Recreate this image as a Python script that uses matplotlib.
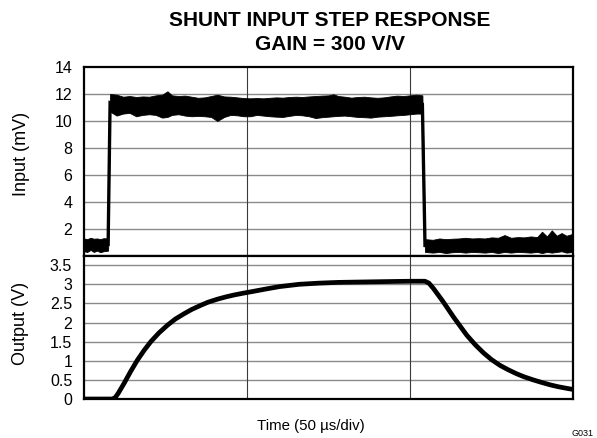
import matplotlib
matplotlib.use("Agg")
import matplotlib.pyplot as plt
import numpy as np

plt.rcParams['font.family'] = ['Liberation Sans', 'DejaVu Sans']

# ---- Input step (mV): noisy trace drawn as an upper/lower envelope ----
t_pre = [0, 1, 2, 3, 4, 5, 6, 7.4]
hi_pre = [1.30, 1.25, 1.35, 1.28, 1.30, 1.25, 1.32, 1.30]
lo_pre = [0.35, 0.30, 0.45, 0.30, 0.40, 0.28, 0.35, 0.40]

t_high = [8.0, 10, 12, 14, 16, 18, 20, 22, 24, 25.6, 27, 29, 31, 33, 35, 37, 39,
          40.9, 43, 45, 47, 49, 51, 53, 55, 57, 59, 61, 63, 65, 67, 69, 71, 73,
          75, 76.5, 78, 80, 82, 84, 86, 88, 90, 92, 94, 96, 98, 100, 102, 103.8]
hi_high = [12.0, 11.95, 11.8, 11.85, 11.78, 11.82, 11.8, 11.9, 11.95, 12.2,
           11.9, 11.85, 11.88, 11.8, 11.72, 11.75, 11.85, 11.95, 11.82, 11.8,
           11.75, 11.7, 11.68, 11.7, 11.68, 11.72, 11.75, 11.73, 11.78, 11.8,
           11.78, 11.82, 11.85, 11.88, 11.9, 11.98, 11.85, 11.8, 11.73, 11.78,
           11.8, 11.75, 11.72, 11.75, 11.82, 11.88, 11.85, 11.9, 11.95, 11.9]
lo_high = [10.7, 10.4, 10.55, 10.6, 10.35, 10.45, 10.5, 10.45, 10.25, 10.3,
           10.45, 10.5, 10.4, 10.35, 10.38, 10.35, 10.3, 10.0, 10.3, 10.45,
           10.42, 10.35, 10.35, 10.45, 10.4, 10.35, 10.32, 10.3, 10.38, 10.45,
           10.42, 10.35, 10.22, 10.28, 10.32, 10.35, 10.38, 10.4, 10.35, 10.3,
           10.28, 10.25, 10.32, 10.35, 10.38, 10.42, 10.45, 10.5, 10.55, 10.55]

t_post = [104.6, 107, 109, 111, 113, 115, 117, 119, 121, 123, 125, 127, 129,
          131, 133, 135, 137, 139, 140.5, 142, 143.5, 145, 146.5, 148, 150]
hi_post = [1.25, 1.2, 1.3, 1.25, 1.28, 1.3, 1.35, 1.3, 1.32, 1.3, 1.38, 1.35,
           1.55, 1.35, 1.4, 1.38, 1.45, 1.4, 1.8, 1.45, 1.9, 1.5, 1.7, 1.5, 1.65]
lo_post = [0.3, 0.25, 0.3, 0.22, 0.28, 0.3, 0.25, 0.3, 0.28, 0.25, 0.3, 0.22,
           0.3, 0.25, 0.3, 0.28, 0.25, 0.3, 0.22, 0.3, 0.25, 0.3, 0.35, 0.25, 0.3]

# ---- Output response (V) ----
t_out = [0, 8.7, 9.6, 10.5, 12.3, 14.3, 16.4, 18.5, 20.5, 23, 25.6, 28, 30.7,
         33, 35.8, 38, 40.9, 43.5, 46, 49, 51.6, 56, 60, 66, 72, 78, 85, 92,
         100, 104.6, 105.8, 107.2, 110.2, 113.3, 117.4, 120, 122.5, 125, 127.6,
         130, 132.7, 135, 137.8, 140.5, 143, 145.5, 148, 150]
v_out = [0, 0, 0.04, 0.15, 0.41, 0.72, 1.02, 1.28, 1.5, 1.73, 1.93, 2.09, 2.23,
         2.34, 2.45, 2.53, 2.61, 2.67, 2.72, 2.77, 2.81, 2.88, 2.94, 3.0, 3.03,
         3.05, 3.06, 3.07, 3.08, 3.08, 3.03, 2.89, 2.54, 2.15, 1.67, 1.42, 1.21,
         1.03, 0.88, 0.77, 0.66, 0.58, 0.50, 0.43, 0.37, 0.32, 0.28, 0.25]

in_ticks = [2, 4, 6, 8, 10, 12, 14]
out_ticks = [0, 0.5, 1, 1.5, 2, 2.5, 3, 3.5]
out_tick_labels = ['0', '0.5', '1', '1.5', '2', '2.5', '3', '3.5']
time_grid = [50, 100]

W, H = 597, 438
fig = plt.figure(figsize=(W / 100, H / 100), dpi=100)

def box(l, t, r, b):
    return [l / W, 1 - b / H, (r - l) / W, (b - t) / H]

ax_in = fig.add_axes(box(84, 67, 573, 256))
ax_out = fig.add_axes(box(84, 256, 573, 399))

t_in = np.array(t_pre + t_high + t_post)
hi_in = np.array(hi_pre + hi_high + hi_post)
lo_in = np.array(lo_pre + lo_high + lo_post)

hgrid = '#8a8a8a'
vgrid = '#3a3a3a'

# Input panel
for y in in_ticks[:-1]:
    ax_in.axhline(y, color=hgrid, lw=1.0, zorder=1)
for x in time_grid:
    ax_in.axvline(x, color=vgrid, lw=0.8, zorder=1)
ax_in.fill_between(t_in, lo_in, hi_in, color='black', lw=0.6, edgecolor='black', zorder=3)
ax_in.plot(t_in, (hi_in + lo_in) / 2, color='black', lw=2.4, zorder=3,
           solid_joinstyle='miter')
ax_in.set_xlim(0, 150)
ax_in.set_ylim(0, 14)
ax_in.set_yticks(in_ticks)
ax_in.set_yticklabels([str(v) for v in in_ticks])
ax_in.set_xticks([])

# Output panel
for y in out_ticks[1:]:
    ax_out.axhline(y, color=hgrid, lw=1.0, zorder=1)
for x in time_grid:
    ax_out.axvline(x, color=vgrid, lw=0.8, zorder=1)
ax_out.plot(t_out, v_out, color='black', lw=3.4, zorder=3,
            solid_capstyle='butt', solid_joinstyle='round')
ax_out.set_xlim(0, 150)
ax_out.set_ylim(0, 3.74)
ax_out.set_yticks(out_ticks)
ax_out.set_yticklabels(out_tick_labels)
ax_out.set_xticks([])

for ax in (ax_in, ax_out):
    for s in ax.spines.values():
        s.set_linewidth(1.6)
        s.set_color('black')
        s.set_zorder(5)
    ax.tick_params(axis='y', length=0, pad=8.5, labelsize=11.5)

fig.text(330 / W, 1 - 21 / H, 'SHUNT INPUT STEP RESPONSE', ha='center', va='center',
         fontsize=15, fontweight='bold')
fig.text(330 / W, 1 - 44 / H, 'GAIN = 300 V/V', ha='center', va='center',
         fontsize=15, fontweight='bold')
fig.text(21.5 / W, 1 - 154 / H, 'Input (mV)', rotation=90, ha='center', va='center',
         fontsize=13)
fig.text(20.5 / W, 1 - 323 / H, 'Output (V)', rotation=90, ha='center', va='center',
         fontsize=13)
fig.text(311 / W, 1 - 426 / H, 'Time (50 \u00b5s/div)', ha='center', va='center',
         fontsize=10.8)
fig.text(583 / W, 1 - 433 / H, 'G031', ha='center', va='center', fontsize=6.5)

fig.savefig('out.png', dpi=100)
